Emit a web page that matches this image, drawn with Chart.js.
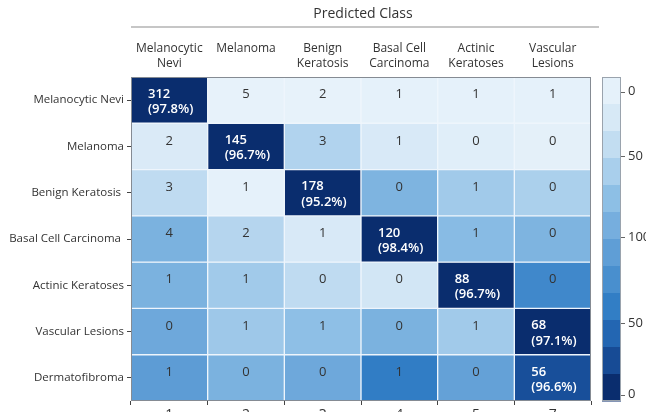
<!DOCTYPE html>
<html>
<head>
<meta charset="utf-8">
<script src="https://cdn.jsdelivr.net/npm/chart.js@4.4.1/dist/chart.umd.min.js"></script>
<style>
  html, body { margin: 0; padding: 0; background: #fff; overflow: hidden; }
  #wrap { width: 646px; height: 412px; }
</style>
</head>
<body>
<div id="wrap"><canvas id="cm" width="646" height="412"></canvas></div>
<script>
// ---- data ----
const chartTitle = 'Predicted Class';
const predLabels = [['Melanocytic', 'Nevi'], ['Melanoma', ''], ['Benign', 'Keratosis'], ['Basal Cell', 'Carcinoma'], ['Actinic', 'Keratoses'], ['Vascular', 'Lesions']];
const trueLabels = ['Melanocytic Nevi', 'Melanoma', 'Benign Keratosis ', 'Basal Cell Carcinoma ', 'Actinic Keratoses', 'Vascular Lesions', 'Dermatofibroma'];
const colNumbers = ['1', '2', '3', '4', '5', '7'];

const counts = [
  [312, 5, 2, 1, 1, 1],
  [2, 145, 3, 1, 0, 0],
  [3, 1, 178, 0, 1, 0],
  [4, 2, 1, 120, 1, 0],
  [1, 1, 0, 0, 88, 0],
  [0, 1, 1, 0, 1, 68],
  [1, 0, 0, 1, 0, 56]
];
// column holding the correct prediction of each row, and its share
const hitCol = [0, 1, 2, 3, 4, 5, 5];
const hitPct = ['97.8%', '96.7%', '95.2%', '98.4%', '96.7%', '97.1%', '96.6%'];

// colour level (0 light .. 1 dark) of every cell
const shade = [
  [1.00, 0.02, 0.02, 0.03, 0.03, 0.03],
  [0.10, 1.00, 0.27, 0.11, 0.06, 0.04],
  [0.22, 0.03, 1.00, 0.44, 0.32, 0.29],
  [0.45, 0.26, 0.11, 1.00, 0.40, 0.44],
  [0.45, 0.32, 0.22, 0.14, 1.00, 0.68],
  [0.50, 0.33, 0.38, 0.45, 0.32, 1.00],
  [0.57, 0.45, 0.50, 0.74, 0.54, 0.90]
];

// colour bar
const cbTickValues = [9, 49, 99, 152, 196];
const cbTickLabels = ['0', '50', '100', '50', '0'];
const cbBands = 12;

// ---- colour map ----
const stops = ['#eaf4fb', '#d6e8f6', '#b8d7ef', '#8fc0e6', '#6ea8db', '#4f93d0', '#2e7bc4', '#1c57a5', '#0a2d6e'];
function hex(c) { return [1, 3, 5].map(i => parseInt(c.substr(i, 2), 16)); }
function cmap(t) {
  t = Math.max(0, Math.min(1, t));
  const p = t * (stops.length - 1);
  const i = Math.min(Math.floor(p), stops.length - 2);
  const f = p - i;
  const a = hex(stops[i]), b = hex(stops[i + 1]);
  const m = a.map((v, k) => Math.round(v + (b[k] - v) * f));
  return `rgb(${m[0]},${m[1]},${m[2]})`;
}

const FONT = "'Open Sans', 'DejaVu Sans', sans-serif";
const TEXT = '#333';

// no label overhang padding on the vertical axes, so the grid keeps its height
function noPad(s) { s.paddingTop = 0; s.paddingBottom = 0; }

// ---- extra drawing: cell numbers, frame, colour bar, title ----
const decor = {
  id: 'decor',
  afterDatasetsDraw(chart) {
    const { ctx, chartArea: a, scales } = chart;
    const xs = scales.x, ys = scales.y, cb = scales.cb;
    ctx.save();
    ctx.textBaseline = 'middle';
    counts.forEach((row, r) => {
      row.forEach((v, c) => {
        if (c === hitCol[r]) {
          ctx.fillStyle = '#fff';
          ctx.font = `600 13px ${FONT}`;
          ctx.textAlign = 'left';
          const x = xs.getPixelForValue(c - 0.5) + 17;
          ctx.fillText(String(v), x, ys.getPixelForValue(r + 0.37));
          ctx.fillText('(' + hitPct[r] + ')', x, ys.getPixelForValue(r + 0.7));
        } else {
          ctx.fillStyle = TEXT;
          ctx.font = `13px ${FONT}`;
          ctx.textAlign = 'center';
          ctx.fillText(String(v), xs.getPixelForValue(c), ys.getPixelForValue(r + 0.38));
        }
      });
    });
    // frame
    ctx.strokeStyle = '#858b93';
    ctx.lineWidth = 1;
    ctx.strokeRect(a.left + 0.5, a.top + 0.5, a.right - a.left - 1, a.bottom - a.top - 1);

    // colour bar
    const x0 = a.right + 11, w = 19;
    const h = (a.bottom - a.top) / cbBands;
    for (let i = 0; i < cbBands; i++) {
      ctx.fillStyle = cmap(0.03 + (i / (cbBands - 1)) * 0.97);
      ctx.fillRect(x0, a.top + i * h, w, h + 0.5);
    }
    ctx.strokeStyle = '#9aa3ad';
    ctx.strokeRect(x0 + 0.5, a.top + 0.5, w - 1, a.bottom - a.top - 1);
    ctx.strokeStyle = '#666';
    cb.ticks.forEach(t => {
      const y = Math.round(cb.getPixelForValue(t.value)) + 0.5;
      ctx.beginPath();
      ctx.moveTo(x0 + w, y);
      ctx.lineTo(x0 + w + 4, y);
      ctx.stroke();
    });

    // title and the rule under it
    ctx.fillStyle = TEXT;
    ctx.font = `14px ${FONT}`;
    ctx.textAlign = 'center';
    ctx.fillText(chartTitle, (a.left + a.right) / 2 + 2, 14);
    ctx.strokeStyle = '#c6c6c6';
    ctx.lineWidth = 2;
    ctx.beginPath();
    ctx.moveTo(a.left, 27);
    ctx.lineTo(a.right + 8, 27);
    ctx.stroke();
    ctx.restore();
  }
};

const datasets = trueLabels.map((name, r) => ({
  label: name,
  data: counts[r].map(() => 1),
  backgroundColor: shade[r].map(cmap),
  borderColor: 'rgba(236,245,252,0.85)',
  borderWidth: 1,
  borderSkipped: false,
  barPercentage: 1,
  categoryPercentage: 1
}));

new Chart(document.getElementById('cm'), {
  type: 'bar',
  data: { labels: colNumbers, datasets: datasets },
  plugins: [decor],
  options: {
    responsive: false,
    animation: false,
    devicePixelRatio: 1,
    layout: { padding: 0 },
    plugins: {
      legend: { display: false },
      tooltip: { enabled: false },
      title: { display: false }
    },
    scales: {
      x: {
        position: 'bottom',
        stacked: true,
        grid: { display: true, drawOnChartArea: false, drawTicks: true, tickLength: 4, color: '#444' },
        border: { display: false },
        ticks: { padding: 2, color: TEXT, font: { family: FONT, size: 14 }, maxRotation: 0 },
        afterFit: s => { s.height = 11; }
      },
      x2: {
        type: 'category',
        labels: predLabels,
        position: 'top',
        offset: true,
        grid: { display: false, drawTicks: false },
        border: { display: false },
        ticks: { padding: 6, color: TEXT, font: { family: FONT, size: 12, lineHeight: 1.25 }, maxRotation: 0 },
        afterFit: s => { s.height = 77; }
      },
      y: {
        position: 'left',
        stacked: true,
        reverse: true,
        min: 0,
        max: 7,
        grid: { display: true, drawOnChartArea: false, drawTicks: true, tickLength: 4, color: '#444' },
        border: { display: false },
        afterBuildTicks: s => { s.ticks = trueLabels.map((_, i) => ({ value: i + 0.5 })); },
        ticks: {
          callback: (v, i) => trueLabels[i],
          padding: 3,
          color: TEXT,
          font: { family: FONT, size: 11.5 }
        },
        afterFit: s => { s.width = 131; noPad(s); }
      },
      cb: {
        type: 'linear',
        position: 'right',
        min: 0,
        max: 200,
        reverse: true,
        grid: { display: false, drawTicks: false },
        border: { display: false },
        afterBuildTicks: s => { s.ticks = cbTickValues.map(v => ({ value: v })); },
        ticks: {
          callback: (v, i) => cbTickLabels[i],
          padding: 37,
          color: TEXT,
          font: { family: FONT, size: 13 }
        },
        afterFit: s => { s.width = 55; noPad(s); }
      }
    }
  }
});
</script>
</body>
</html>
